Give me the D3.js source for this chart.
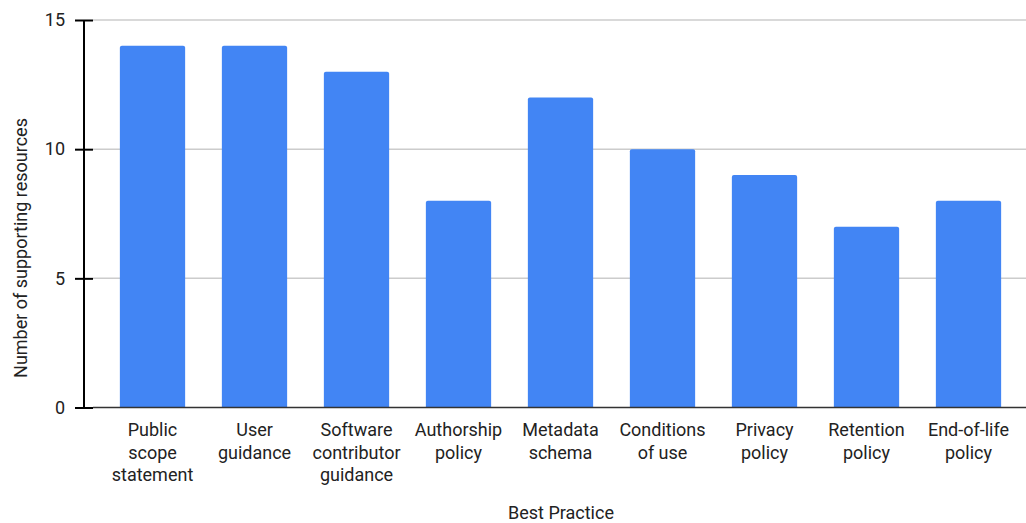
<!DOCTYPE html>
<html>
<head>
<meta charset="utf-8">
<script src="https://cdn.jsdelivr.net/npm/d3@7"></script>
<style>
  body { margin: 0; background: #fff; }
  text { font-family: Roboto, "Noto Sans", sans-serif; fill: #222; }
</style>
</head>
<body>
<script>
  var categories = [
    ["Public", "scope", "statement"],
    ["User", "guidance"],
    ["Software", "contributor", "guidance"],
    ["Authorship", "policy"],
    ["Metadata", "schema"],
    ["Conditions", "of use"],
    ["Privacy", "policy"],
    ["Retention", "policy"],
    ["End-of-life", "policy"]
  ];
  var values = [14, 14, 13, 8, 12, 10, 9, 7, 8];
  var yTicks = [0, 5, 10, 15];

  var width = 1026, height = 523;
  var svg = d3.select("body").append("svg")
    .attr("width", width)
    .attr("height", height);

  var x = d3.scaleBand()
    .domain(d3.range(categories.length))
    .range([101.5, 1019.5])
    .paddingInner(0.36)
    .paddingOuter(0.18);
  var y = d3.scaleLinear().domain([0, 15]).range([407.5, 20]);

  // gridlines
  svg.append("g").selectAll("line")
    .data(yTicks.filter(function(d) { return d > 0; }))
    .enter().append("line")
    .attr("x1", 93).attr("x2", width)
    .attr("y1", function(d) { return y(d); })
    .attr("y2", function(d) { return y(d); })
    .attr("stroke", "#cccccc")
    .attr("stroke-width", 1.5);

  // bars with slightly rounded tops
  svg.append("g").selectAll("path")
    .data(values)
    .enter().append("path")
    .attr("fill", "#4285f4")
    .attr("d", function(d, i) {
      var x0 = x(i), w = x.bandwidth(), t = y(d), b = y(0), r = 2;
      return "M" + x0 + "," + b + "V" + (t + r) +
        "Q" + x0 + "," + t + " " + (x0 + r) + "," + t +
        "H" + (x0 + w - r) +
        "Q" + (x0 + w) + "," + t + " " + (x0 + w) + "," + (t + r) +
        "V" + b + "Z";
    });

  // baseline
  svg.append("line")
    .attr("x1", 93).attr("x2", width)
    .attr("y1", y(0)).attr("y2", y(0))
    .attr("stroke", "#333").attr("stroke-width", 1.5);

  // y axis
  var yAxis = d3.axisLeft(y).tickValues(yTicks).tickSize(9).tickPadding(10);
  var gy = svg.append("g").attr("transform", "translate(84,0)").call(yAxis);
  gy.select(".domain").attr("stroke", "#000").attr("stroke-width", 2)
    .attr("d", "M0," + y(0) + "V" + y(15));
  gy.selectAll(".tick line").attr("stroke", "#000").attr("stroke-width", 2).attr("x1", 9);
  gy.selectAll(".tick text")
    .style("font-family", "Roboto, sans-serif")
    .style("font-size", "18px")
    .attr("fill", "#222");

  // category labels
  var lab = svg.append("g").selectAll("text")
    .data(categories)
    .enter().append("text")
    .attr("text-anchor", "middle")
    .attr("font-size", 18)
    .attr("transform", function(d, i) { return "translate(" + (x(i) + x.bandwidth() / 2) + ",436)"; });
  lab.selectAll("tspan")
    .data(function(d) { return d; })
    .enter().append("tspan")
    .attr("x", 0)
    .attr("y", function(d, j) { return j * 22.5; })
    .text(function(d) { return d; });

  // axis titles
  svg.append("text")
    .attr("x", 561).attr("y", 519)
    .attr("text-anchor", "middle")
    .attr("font-size", 18)
    .text("Best Practice");

  svg.append("text")
    .attr("transform", "translate(27,248) rotate(-90)")
    .attr("text-anchor", "middle")
    .attr("font-size", 18)
    .text("Number of supporting resources");
</script>
</body>
</html>
